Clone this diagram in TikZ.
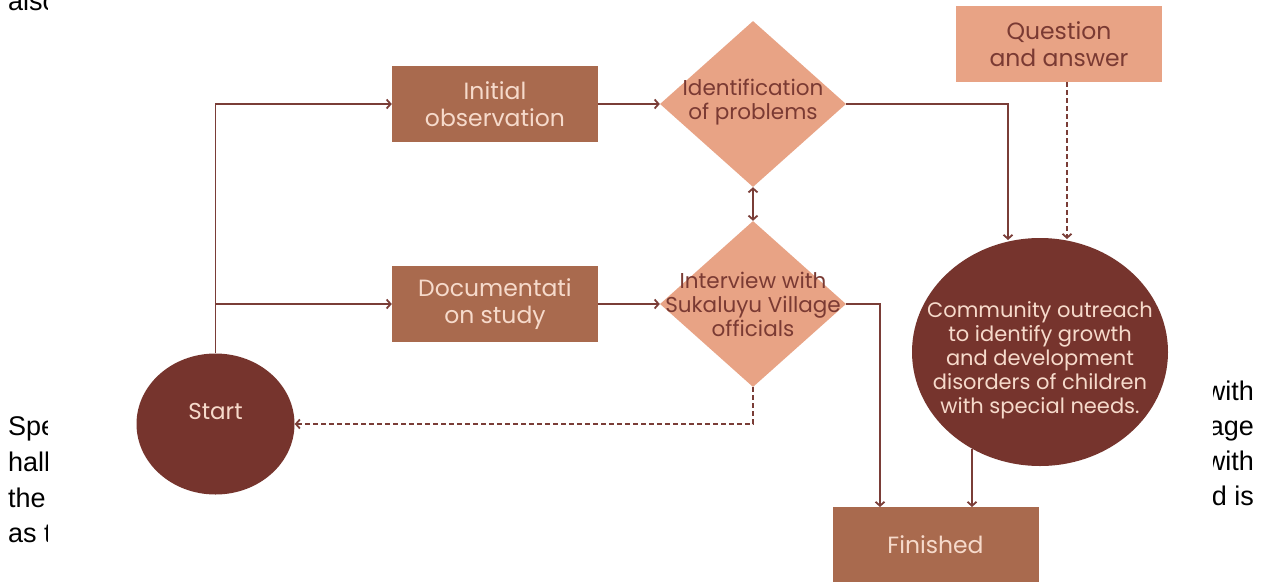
\documentclass[tikz,border=0pt]{standalone}
\usepackage{fontspec}
\setmainfont{Poppins}
\newfontfamily\docfont{Liberation Sans}
\usetikzlibrary{shapes.geometric,arrows.meta}
\definecolor{boxbrown}{HTML}{A96A4E}
\definecolor{salmon}{HTML}{E8A385}
\definecolor{maroon}{HTML}{76342D}
\definecolor{linec}{HTML}{7A3D37}
\definecolor{lighttxt}{HTML}{F6DACB}
\definecolor{darktxt}{HTML}{7A3A33}
\tikzset{
  >={Straight Barb[length=4pt,width=9pt]},
  box/.style={rectangle, minimum width=206pt, minimum height=76pt, inner sep=0pt, align=center, font=\fontsize{23.5}{27}\selectfont},
  darkbox/.style={box, fill=boxbrown, text=lighttxt},
  lightbox/.style={box, fill=salmon, text=darktxt},
  dia/.style={diamond, fill=salmon, minimum width=186pt, minimum height=166pt, inner sep=0pt},
  diatext/.style={text=darktxt, align=center, inner sep=0pt, font=\fontsize{21.5}{24}\selectfont},
  blob/.style={ellipse, fill=maroon, inner sep=0pt},
  blobtext/.style={text=lighttxt, align=center, inner sep=0pt, font=\fontsize{21}{24}\selectfont},
  flow/.style={draw=linec, line width=1.8pt, ->},
  dflow/.style={flow, dash pattern=on 5pt off 3pt},
  bothflow/.style={draw=linec, line width=1.8pt, <->},
  doctext/.style={inner sep=0pt, font=\docfont\fontsize{27}{36}\selectfont, text=black}
}
\begin{document}
\begin{tikzpicture}[x=1pt,y=-1pt]
\useasboundingbox (0,0) rectangle (1269,581);
% background document text (partly hidden behind the diagram)
\node[doctext, anchor=base west] (t0) at (8,10) {also};
\node[doctext, anchor=base west] (t1) at (8,435) {Special};
\node[doctext, anchor=base west] (t2) at (8,471) {hall};
\node[doctext, anchor=base west] (t3) at (8,507) {the};
\node[doctext, anchor=base west] (t4) at (8,542) {as the};
\node[doctext, anchor=base east] (r1) at (1254,400) {with};
\node[doctext, anchor=base east] (r2) at (1254,435) {village};
\node[doctext, anchor=base east] (r3) at (1254,470) {with};
\node[doctext, anchor=base east] (r4) at (1254,505) {and is};
\fill[white] (48,-5) rectangle (1213,590);

% nodes
\node[darkbox] (init) at (495,104) {Initial\\observation};
\node[darkbox] (doc) at (495,304) {Documentati\\on study};
\node[lightbox] (qa) at (1059,44) {Question\\and answer};
\node[darkbox] (fin) at (935.5,545) {Finished};
\node[dia, label={[diatext, yshift=2pt]center:{Identification\\of problems}}] (ident) at (753,104) {};
\node[dia, label={[diatext]center:{Interview with\\Sukaluyu Village\\officials}}] (inter) at (753,304) {};
\node[blob, minimum width=256pt, minimum height=228pt,
      label={[blobtext, yshift=-8pt]center:{Community outreach\\to identify growth\\and development\\disorders of children\\with special needs.}}] (comm) at (1040,352) {};
\node[blob, minimum width=158pt, minimum height=141pt,
      label={[blobtext, font=\fontsize{23}{27}\selectfont, yshift=13pt]center:Start}] (start) at (215.5,424) {};

% helper coordinates
\coordinate (c1) at (1008,240);
\coordinate (c2) at (1067,239);
\coordinate (f1) at (880,507);
\coordinate (e2) at (972,449);
\coordinate (f2) at (972,507);

% connectors
\draw[flow] (start.north) |- (init.west);
\draw[flow] (start.north |- doc.west) -- (doc.west);
\draw[flow] (init.east) -- (ident.west);
\draw[flow] (doc.east) -- (inter.west);
\draw[flow] (ident.east) -| (c1);
\draw[dflow] (qa.south -| c2) -- (c2);
\draw[bothflow] (ident.south) -- (inter.north);
\draw[flow] (inter.east) -| (f1);
\draw[flow] (e2) -- (f2);
\draw[dflow] (inter.south) |- (start.east);
\end{tikzpicture}
\end{document}
